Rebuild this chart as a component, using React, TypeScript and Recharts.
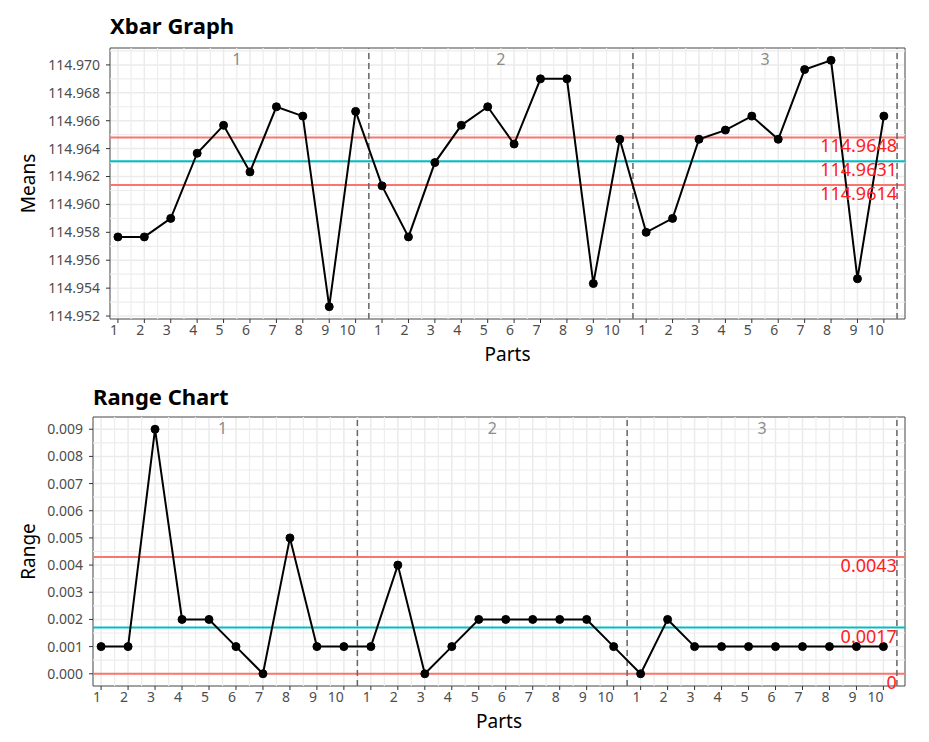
import React from 'react';
import {
  LineChart,
  Line,
  XAxis,
  YAxis,
  CartesianGrid,
  ReferenceLine,
  ReferenceDot,
  ReferenceArea,
} from 'recharts';

// operators / groups, each with 10 parts
const groups = ['1', '2', '3'];
const partsPerGroup = 10;

const xbarMeans = [
  114.95767, 114.95767, 114.959, 114.96367, 114.96567, 114.96233, 114.967, 114.96633, 114.95267, 114.96667,
  114.96133, 114.95767, 114.963, 114.96567, 114.967, 114.96433, 114.969, 114.969, 114.95433, 114.96467,
  114.958, 114.959, 114.96467, 114.96533, 114.96633, 114.96467, 114.96967, 114.97033, 114.95467, 114.96633,
];

const rangeValues = [
  0.001, 0.001, 0.009, 0.002, 0.002, 0.001, 0, 0.005, 0.001, 0.001,
  0.001, 0.004, 0, 0.001, 0.002, 0.002, 0.002, 0.002, 0.002, 0.001,
  0, 0.002, 0.001, 0.001, 0.001, 0.001, 0.001, 0.001, 0.001, 0.001,
];

// UCL, CL, LCL
const xbarLimits = [114.9648, 114.9631, 114.9614];
const rangeLimits = [0.0043, 0.0017, 0];

const xbarTicks = [114.952, 114.954, 114.956, 114.958, 114.96, 114.962, 114.964, 114.966, 114.968, 114.97];
const rangeTicks = [0, 0.001, 0.002, 0.003, 0.004, 0.005, 0.006, 0.007, 0.008, 0.009];

const limitColors = ['#F8766D', '#00BFC4', '#F8766D'];

const xDomain: [number, number] = [0.7, 30.8];
const xTicks = xbarMeans.map((_, i) => i + 1);
const xMinor = xTicks.map((t) => t + 0.5);
const dividers = groups.map((_, g) => (g + 1) * partsPerGroup + 0.5);
const groupCenters = groups.map((_, g) => g * partsPerGroup + (partsPerGroup + 1) / 2);

const tickStyle = { fill: '#4D4D4D', fontSize: 14, fontFamily: 'Noto Sans' };

function padDomain(vals: number[]): [number, number] {
  const lo = Math.min(...vals);
  const hi = Math.max(...vals);
  const pad = (hi - lo) * 0.05;
  return [lo - pad, hi + pad];
}

interface ControlChartProps {
  top: number;
  height: number;
  yAxisWidth: number;
  marginTop: number;
  title: string;
  yLabel: string;
  values: number[];
  limits: number[];
  yTicks: number[];
  minorStep: number;
}

function ControlChart({ top, height, yAxisWidth, marginTop, title, yLabel, values, limits, yTicks, minorStep }: ControlChartProps) {
  const data = values.map((v, i) => ({ x: i + 1, value: v }));
  const yDomain = padDomain(values);
  const yMinor = yTicks.map((t) => t + minorStep);
  const maxVal = Math.max(...values);

  return (
    <div style={{ position: 'absolute', left: 0, top, width: 929, height }}>
      <div
        style={{
          position: 'absolute',
          left: yAxisWidth,
          top: 14 - marginTop + 48,
          fontSize: 22,
          lineHeight: '22px',
          fontWeight: 700,
          color: '#000',
          fontFamily: 'Noto Sans',
        }}
      >
        {title}
      </div>
      <LineChart width={929} height={height} data={data} margin={{ top: marginTop, right: 24, bottom: 0, left: 0 }}>
        <CartesianGrid stroke="#EBEBEB" strokeWidth={1.5} />
        {xMinor.map((x) => (
          <ReferenceLine key={'mx' + x} x={x} stroke="#EDEDED" strokeWidth={1.2} />
        ))}
        {yMinor.map((y) => (
          <ReferenceLine key={'my' + y} y={y} stroke="#EDEDED" strokeWidth={1.2} />
        ))}
        <XAxis
          dataKey="x"
          type="number"
          domain={xDomain}
          ticks={xTicks}
          interval={0}
          allowDataOverflow
          height={51}
          tickSize={4}
          tickMargin={2}
          axisLine={false}
          tickLine={{ stroke: '#333333' }}
          tick={{ ...tickStyle, textAnchor: 'end', dx: 0 }}
          tickFormatter={(v: number) => String(((v - 1) % partsPerGroup) + 1)}
          label={{ value: 'Parts', position: 'insideBottom', offset: 9, fill: '#000', fontSize: 19, fontFamily: 'Noto Sans' }}
        />
        <YAxis
          type="number"
          domain={yDomain}
          ticks={yTicks}
          interval={0}
          allowDataOverflow
          width={yAxisWidth}
          tickSize={4}
          tickMargin={6}
          axisLine={false}
          tickLine={{ stroke: '#333333' }}
          tick={tickStyle}
          tickFormatter={(v: number) => v.toFixed(3)}
          label={{
            value: yLabel,
            angle: -90,
            position: 'insideLeft',
            offset: 28,
            fill: '#000',
            fontSize: 19,
            fontFamily: 'Noto Sans',
            style: { textAnchor: 'middle' },
          }}
        />
        {limits.map((l, i) => (
          <ReferenceLine key={'lim' + i} y={l} stroke={limitColors[i]} strokeWidth={2} />
        ))}
        {dividers.map((d) => (
          <ReferenceLine key={'div' + d} x={d} stroke="#666666" strokeWidth={1.5} strokeDasharray="6 4" />
        ))}
        <Line
          type="linear"
          dataKey="value"
          stroke="#000"
          strokeWidth={2}
          dot={{ r: 4, fill: '#000', stroke: '#000', strokeWidth: 1 }}
          isAnimationActive={false}
        />
        {groups.map((g, i) => (
          <ReferenceDot
            key={'g' + g}
            x={groupCenters[i]}
            y={maxVal}
            r={0}
            fill="none"
            stroke="none"
            label={(p: any) => {
              const vb = p.viewBox || p;
              return (
                <text x={vb.x} y={vb.y} dy={5} textAnchor="middle" fill="#8C8C8C" fontSize={16} fontFamily="Noto Sans">
                  {g}
                </text>
              );
            }}
          />
        ))}
        {limits.map((l, i) => (
          <ReferenceDot
            key={'lbl' + i}
            x={dividers[dividers.length - 1]}
            y={l}
            r={0}
            fill="none"
            stroke="none"
            ifOverflow="hidden"
            label={(p: any) => {
              const vb = p.viewBox || p;
              return (
                <text x={vb.x} y={vb.y} dy={15} textAnchor="end" fill="#FF2020" fontSize={18} fontFamily="Noto Sans">
                  {String(l)}
                </text>
              );
            }}
          />
        ))}
        <ReferenceArea
          x1={xDomain[0]}
          x2={xDomain[1]}
          y1={yDomain[0]}
          y2={yDomain[1]}
          fill="none"
          stroke="#555555"
          strokeWidth={1}
          ifOverflow="visible"
        />
      </LineChart>
    </div>
  );
}

export default function App() {
  return (
    <div style={{ position: 'absolute', left: 0, top: 0, width: 929, height: 742, background: '#fff', fontFamily: 'Noto Sans' }}>
      <ControlChart
        top={0}
        height={370}
        yAxisWidth={110}
        marginTop={48}
        title="Xbar Graph"
        yLabel="Means"
        values={xbarMeans}
        limits={xbarLimits}
        yTicks={xbarTicks}
        minorStep={0.001}
      />
      <ControlChart
        top={370}
        height={367}
        yAxisWidth={93}
        marginTop={47}
        title="Range Chart"
        yLabel="Range"
        values={rangeValues}
        limits={rangeLimits}
        yTicks={rangeTicks}
        minorStep={0.0005}
      />
    </div>
  );
}
